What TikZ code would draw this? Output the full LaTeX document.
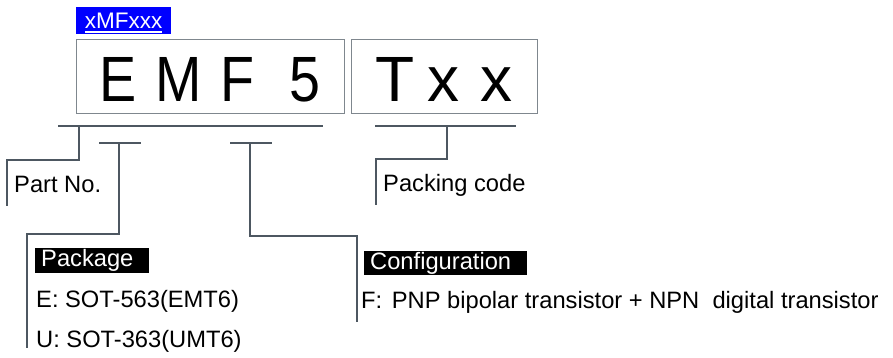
\documentclass[tikz,border=0pt]{standalone}
\usepackage{graphicx}
\usepackage{fontspec}
\setmainfont{Liberation Sans}
\definecolor{connc}{HTML}{4D5761}
\definecolor{framec}{HTML}{7F878E}
\definecolor{tagblue}{HTML}{0000FF}
\newcommand\myul[1]{\setbox0\hbox{#1}\rlap{\smash{\rule[-4.2pt]{\wd0}{1.3pt}}}\box0}
\newcommand\cnd[1]{\scalebox{0.87}[1]{#1}}
\begin{document}
\frenchspacing
\begin{tikzpicture}[x=1pt,y=-1pt,
  conn/.style={draw=connc, line width=2.7pt, line join=miter},
  framebox/.style={draw=framec, line width=1.2pt, inner sep=0pt, anchor=north west},
  txt/.style={inner sep=0pt, anchor=base west, font=\fontsize{23.7}{28}\selectfont},
  big/.style={inner sep=0pt, anchor=base west, font=\fontsize{64}{70}\selectfont},
  blk/.style={fill=black, text=white, inner sep=0pt, anchor=north west, font=\fontsize{23.7}{28}\selectfont}]
\useasboundingbox (0,0) rectangle (893,358);
% tag
\node[fill=tagblue, text=white, inner sep=0pt, minimum width=95pt, minimum height=27pt,
      anchor=north west, font=\fontsize{22.5}{26}\selectfont] (tag) at (76,7) {\myul{xMFxxx}};
% boxes
\node[framebox, minimum width=268pt, minimum height=74pt] (partbox) at (76,39) {};
\node[framebox, minimum width=186pt, minimum height=74pt] (packbox) at (351,39) {};
\node[big] (parttxt) at (87.5,101.5) {\makebox[60pt]{\cnd{E}}\makebox[62pt]{\cnd{M}}\makebox[56pt]{\cnd{F}}\makebox[79pt]{\cnd{5}}};
\node[big] (packtxt) at (370.5,101.5) {\makebox[48pt]{T}\makebox[50pt]{x}\makebox[56pt]{x}};
% coordinates
\coordinate (mbL) at (58,126);
\coordinate (mbR) at (323,126);
\coordinate (pn1) at (79,126);
\coordinate (pn2) at (7,160);
\coordinate (pn3) at (7,206);
\coordinate (pkL) at (99,143);
\coordinate (pkR) at (141,143);
\coordinate (pk1) at (119,143);
\coordinate (pk2) at (27,234);
\coordinate (pk3) at (27,348);
\coordinate (cfL) at (230,143);
\coordinate (cfR) at (272,143);
\coordinate (cf1) at (250,143);
\coordinate (cf2) at (357,236);
\coordinate (cf3) at (357,322);
\coordinate (tbL) at (375,126);
\coordinate (tbR) at (516,126);
\coordinate (tb1) at (447,126);
\coordinate (tb2) at (376,159);
\coordinate (tb3) at (376,205);
% connectors
\draw[conn] (mbL) -- (mbR);
\draw[conn] (pn1) |- (pn2) -- (pn3);
\draw[conn] (pkL) -- (pkR);
\draw[conn] (pk1) |- (pk2) -- (pk3);
\draw[conn] (cfL) -- (cfR);
\draw[conn] (cf1) |- (cf2) -- (cf3);
\draw[conn] (tbL) -- (tbR);
\draw[conn] (tb1) |- (tb2) -- (tb3);
% texts
\node[txt] (partno) at (14,192) {Part No.};
\node[txt] (packcode) at (383,191) {Packing code};
\node[blk, minimum width=114pt, minimum height=25pt] (pkglbl) at (35,248) {\makebox[114pt][l]{\hspace{6pt}Package}};
\node[blk, minimum width=163pt, minimum height=24pt] (cfglbl) at (364,251) {\makebox[163pt][l]{\hspace{6pt}Configuration}};
\node[txt] (pkgE) at (36,307) {E: SOT-563(EMT6)};
\node[txt] (pkgU) at (36,347) {U: SOT-363(UMT6)};
\node[txt] (cfgF) at (361,308) {F:\hspace{3pt} PNP bipolar transistor + NPN\ \ digital transistor};
\end{tikzpicture}
\end{document}
